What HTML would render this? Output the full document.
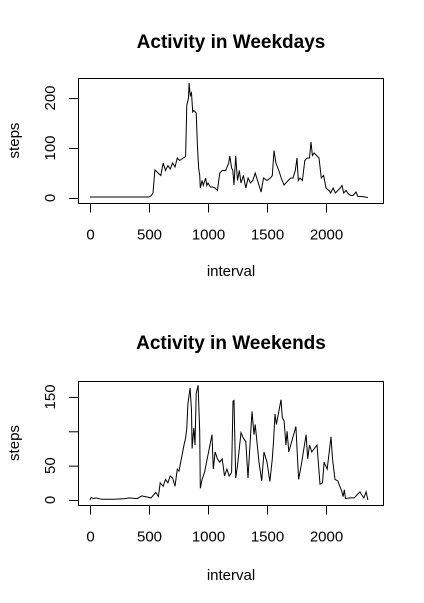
<!DOCTYPE html>
<html><head><meta charset="utf-8"><style>
html,body{margin:0;padding:0;background:#fff;}
svg{display:block;font-family:"Liberation Sans",Arial,sans-serif;}
</style></head><body>
<svg id="chart" width="424" height="603" viewBox="0 0 424 603"></svg>
<script>
// Weekday series
const wdIntervals=[0,100,200,300,400,500,520,534,550,600,620,640,660,680,700,720,740,760,790,810,820,835,840,850,860,870,880,900,910,920,930,935,950,960,980,990,1000,1020,1040,1060,1080,1100,1120,1150,1175,1185,1200,1210,1220,1235,1250,1265,1280,1300,1320,1340,1360,1380,1400,1450,1470,1500,1530,1545,1559,1575,1600,1620,1644,1660,1680,1700,1720,1740,1754,1765,1780,1800,1820,1840,1860,1873,1885,1900,1920,1941,1960,1980,2000,2025,2040,2060,2080,2100,2120,2136,2150,2170,2190,2210,2230,2254,2270,2300,2330,2355];
const wdSteps=[2,2,2,2,2,2,5,10,56,45,70,55,65,58,70,62,80,75,80,83,186,200,230,205,210,172,175,170,106,60,46,20,35,25,40,25,30,22,22,20,15,50,55,55,70,84,60,55,26,84,35,55,30,45,20,40,30,35,50,12,40,35,40,45,95,70,55,40,26,30,35,40,40,55,80,35,40,35,75,80,80,112,85,90,85,80,40,45,20,15,10,20,10,15,20,25,10,15,8,5,5,12,3,3,2,1];
// Weekend series
const weIntervals=[0,10,30,50,100,200,300,330,400,440,517,558,580,595,620,640,660,680,700,720,740,754,797,810,820,830,848,860,865,880,890,900,916,930,935,950,970,1034,1045,1060,1080,1100,1120,1140,1160,1180,1200,1212,1220,1235,1250,1280,1300,1320,1339,1373,1390,1400,1432,1455,1475,1500,1525,1545,1555,1568,1580,1619,1630,1645,1660,1670,1685,1745,1768,1790,1831,1845,1860,1880,1924,1949,1970,1984,2010,2042,2055,2076,2100,2133,2145,2155,2165,2200,2240,2265,2288,2300,2320,2340,2355];
const weSteps=[0,4,2,3,1,1,2,3,2,6,3,11,5,25,20,30,25,35,32,20,45,42,80,90,105,140,163,130,75,105,80,155,167,100,17,30,40,95,45,70,60,55,60,35,45,35,40,144,145,32,50,98,90,85,32,129,95,110,55,28,70,55,27,60,85,125,110,146,120,115,80,100,70,107,30,50,95,60,80,70,80,23,25,55,45,92,60,30,28,13,5,15,2,3,3,8,12,8,3,12,0];
const xTicks=[0,500,1000,1500,2000];
const wdYTicks=[0,100,200];
const wdYLabels=['0','100','200'];
const weYTicks=[0,50,100,150];
const weYLabels=['0','50','','150'];

const svg=document.getElementById('chart');
const NS='http://www.w3.org/2000/svg';
function mk(tag,attrs,parent){const e=document.createElementNS(NS,tag);for(const k in attrs)e.setAttribute(k,attrs[k]);(parent||svg).appendChild(e);return e;}
const xS=v=>90+v*0.118;

function panel(p,xs,ys,yTicks,yLabels,title){
  const g=mk('g',{});
  
  
  const yS=v=>p.y0-v*p.k;
  const t=mk('text',{x:231,y:p.titleY,'text-anchor':'middle','font-size':'19','font-weight':'bold'},g);
  t.textContent=title;
  
  
  const box=mk('rect',{x:78.5,y:p.top+0.5,width:305,height:p.bot-p.top,fill:'none',stroke:'#000','stroke-width':1},g);
  
  
  let d='';
  xs.forEach((x,i)=>{d+=(i?'L':'M')+xS(x).toFixed(1)+','+yS(ys[i]).toFixed(1);});
  const line=mk('path',{d:d,fill:'none',stroke:'#000','stroke-width':1},g);
  
  
  const bl=p.bot+0.5;
  xTicks.forEach(v=>{
    mk('line',{x1:xS(v)+0.5,x2:xS(v)+0.5,y1:bl,y2:bl+9,stroke:'#000'},g);
    const tl=mk('text',{x:xS(v)+0.5,y:bl+36,'text-anchor':'middle','font-size':'15'},g);
    tl.textContent=v;
    
    
  });
  yTicks.forEach((v,i)=>{
    mk('line',{x1:69,x2:78.5,y1:yS(v)+0.5,y2:yS(v)+0.5,stroke:'#000'},g);
    if(yLabels[i]){
      const tl=mk('text',{x:55,y:yS(v),'text-anchor':'middle','font-size':'15',transform:'rotate(-90 55 '+yS(v)+')'},g);
      tl.textContent=yLabels[i];
      
      
    }
  });
  const xl=mk('text',{x:231,y:p.xlabY,'text-anchor':'middle','font-size':'15'},g);
  xl.textContent='interval';
  
  
  const cy=(p.top+p.bot)/2;
  const yl=mk('text',{x:19,y:cy,'text-anchor':'middle','font-size':'15',transform:'rotate(-90 19 '+cy+')'},g);
  yl.textContent='steps';
  
  
}
panel({name:'weekdays',top:78,bot:203,y0:198,k:0.5,titleY:48,xlabY:276},wdIntervals,wdSteps,wdYTicks,wdYLabels,'Activity in Weekdays');
panel({name:'weekends',top:381,bot:505,y0:500,k:0.687,titleY:349,xlabY:580},weIntervals,weSteps,weYTicks,weYLabels,'Activity in Weekends');
</script>
</body></html>
